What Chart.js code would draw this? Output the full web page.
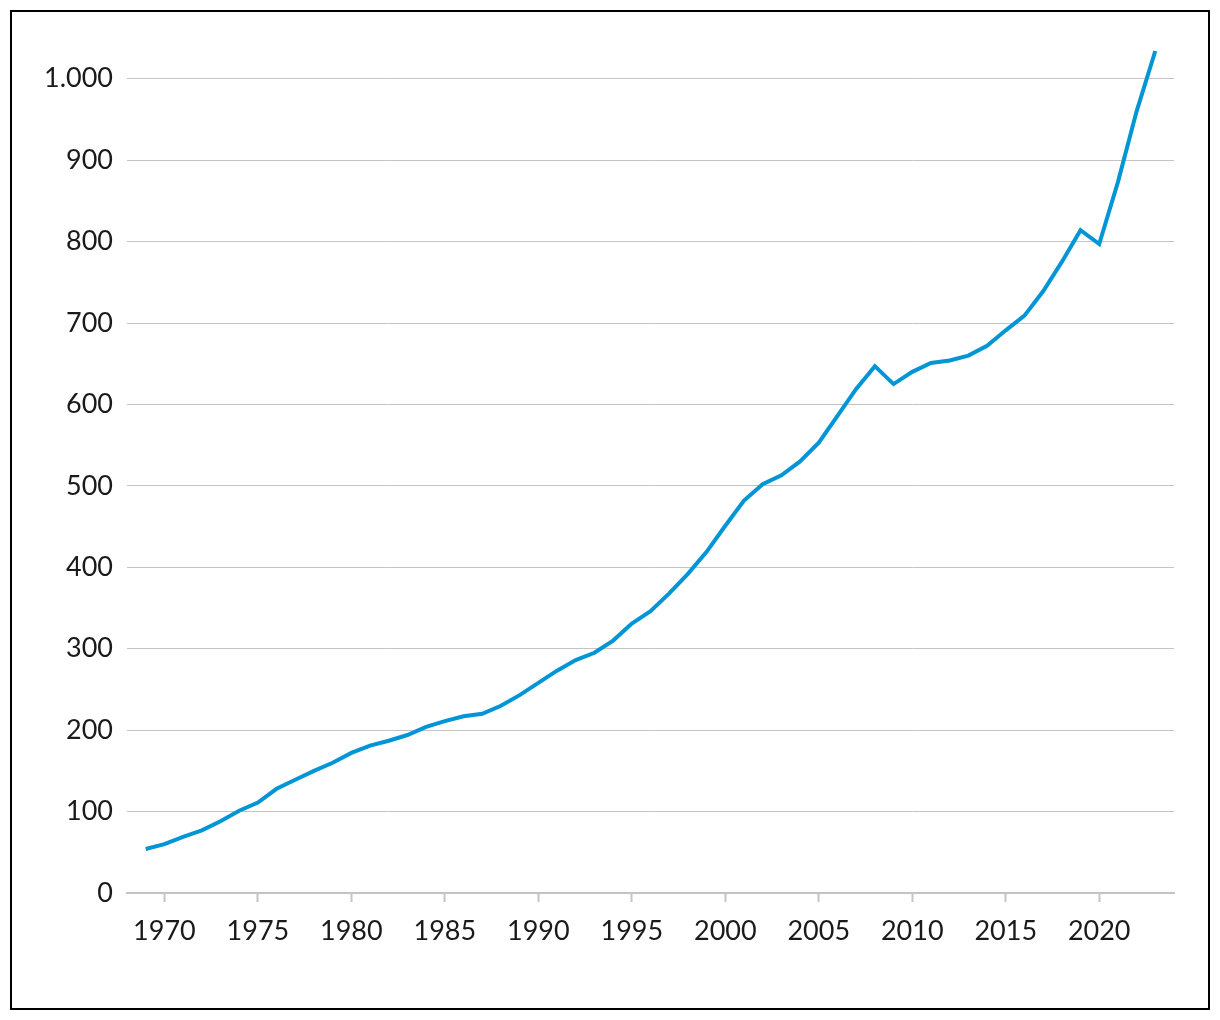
<!DOCTYPE html>
<html>
<head>
<meta charset="utf-8">
<script src="https://cdn.jsdelivr.net/npm/chart.js@4/dist/chart.umd.min.js"></script>
<style>
  html, body { margin: 0; padding: 0; background: #fff; }
  #wrap { position: absolute; left: 0; top: 0; width: 1220px; height: 1020px; }
  #frame { position: absolute; left: 10px; top: 10px; width: 1200px; height: 1000px; box-sizing: border-box; border: 2px solid #000; pointer-events: none; }
</style>
</head>
<body>
<div id="wrap"><canvas id="c" width="1220" height="1020"></canvas></div>
<div id="frame"></div>
<script>
const years = [1969,1970,1971,1972,1973,1974,1975,1976,1977,1978,1979,1980,1981,1982,1983,1984,1985,1986,1987,1988,1989,1990,1991,1992,1993,1994,1995,1996,1997,1998,1999,2000,2001,2002,2003,2004,2005,2006,2007,2008,2009,2010,2011,2012,2013,2014,2015,2016,2017,2018,2019,2020,2021,2022,2023];
const values = [54,60,69,77,88,101,111,128,139,150,160,172,181,187,194,204,211,217,220,230,243,258,273,286,295,310,331,346,368,392,419,451,482,502,513,530,553,586,619,647,625,640,651,654,660,672,691,709,739,775,814,797,873,960,1034];
const yTicks = [0,100,200,300,400,500,600,700,800,900,1000];
const xTicks = [1970,1975,1980,1985,1990,1995,2000,2005,2010,2015,2020];

const fmtDE = v => String(v).replace(/\B(?=(\d{3})+(?!\d))/g, '.');
const FONT = { family: 'Lato, "Open Sans", sans-serif', size: 27, weight: '400' };

new Chart(document.getElementById('c'), {
  type: 'line',
  data: {
    datasets: [{
      data: years.map((y, i) => ({ x: y, y: values[i] })),
      borderColor: '#0096d6',
      borderWidth: 4,
      pointRadius: 0,
      tension: 0,
      fill: false,
      borderCapStyle: 'butt',
      borderJoinStyle: 'miter'
    }]
  },
  options: {
    responsive: false,
    animation: false,
    events: [],
    layout: { padding: { left: 0, right: 46, top: 38, bottom: 0 } },
    plugins: { legend: { display: false }, tooltip: { enabled: false } },
    scales: {
      x: {
        type: 'linear',
        min: 1968, max: 2024,
        afterFit: s => { s.height = 127; },
        afterBuildTicks: s => { s.ticks = xTicks.map(v => ({ value: v })); },
        ticks: { color: '#1a1a1a', font: FONT, padding: 13, maxRotation: 0, autoSkip: false, callback: v => String(v) },
        grid: { drawOnChartArea: false, drawTicks: true, tickLength: 9, tickWidth: 2, tickColor: '#c4c4c4' },
        border: { display: true, color: '#c4c4c4', width: 2 }
      },
      y: {
        type: 'linear',
        min: 0, max: 1050,
        afterFit: s => { s.width = 127; },
        afterBuildTicks: s => { s.ticks = yTicks.map(v => ({ value: v })); },
        ticks: { color: '#1a1a1a', font: FONT, padding: 14, callback: v => fmtDE(v) },
        grid: { color: '#c4c4c4', lineWidth: 1, drawTicks: false },
        border: { display: false }
      }
    }
  }
});
</script>
</body>
</html>
